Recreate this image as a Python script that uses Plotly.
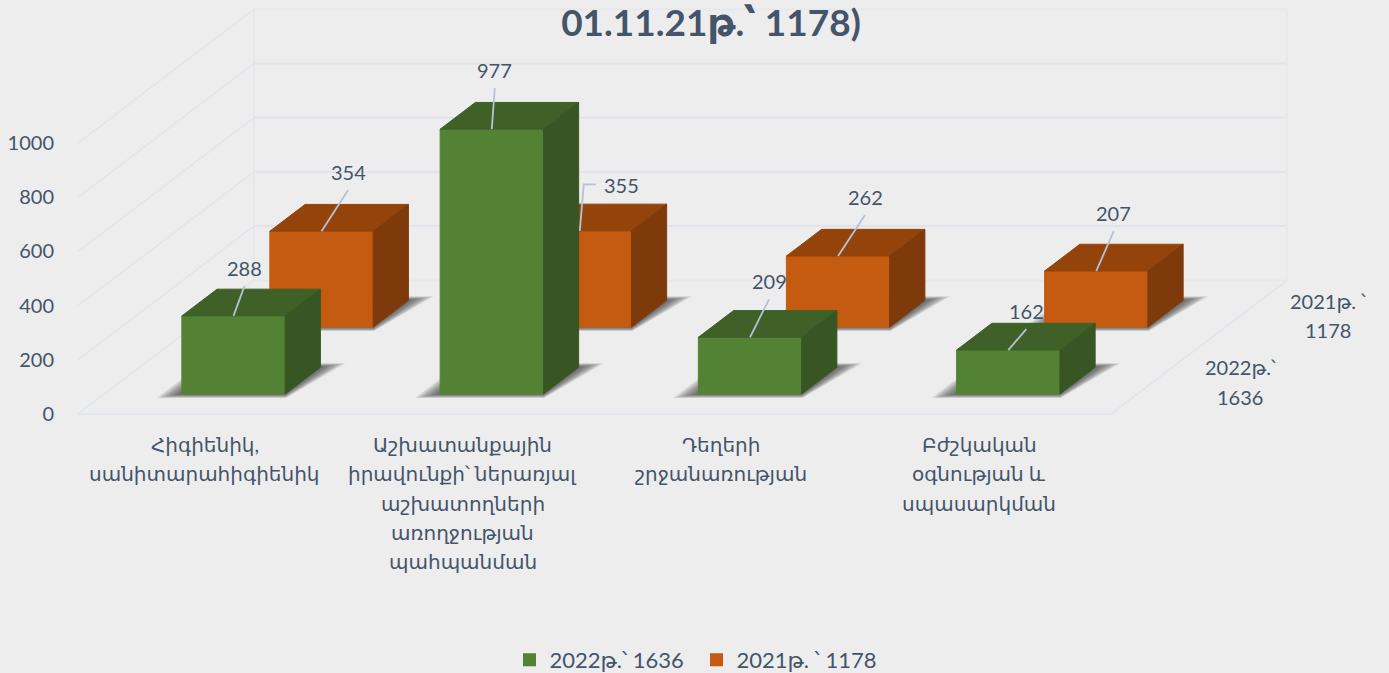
import plotly.graph_objects as go

# ---- data ----
categories = [
    ["Հիգիենիկ,", "սանիտարահիգիենիկ"],
    ["Աշխատանքային", "իրավունքի՝ ներառյալ", "աշխատողների", "առողջության", "պահպանման"],
    ["Դեղերի", "շրջանառության"],
    ["Բժշկական", "օգնության և", "սպասարկման"],
]
series_2022 = [288, 977, 209, 162]
series_2021 = [354, 355, 262, 207]
name_2022 = "2022թ.՝ 1636"
name_2021 = "2021թ. ՝ 1178"
depth_2022 = ["2022թ.՝", "1636"]
depth_2021 = ["2021թ. ՝", "1178"]
y_ticks = [0, 200, 400, 600, 800, 1000]
title_text = "01.11.21թ.՝ 1178)"

# ---- style / layout ----
W, H = 1389, 673
BG = "#EDEDED"
TXT = "#44546A"
GRID = "#E0E4EA"
FONT = "Lato, 'DejaVu Sans', sans-serif"
FS = 20
ML = 55
PX_X0, PX_CELL = 78.0, 258.25    # px of category 0 at front, px per category
PX_Y0, PX_UNIT = 414.0, 0.271    # px of value 0 at front, px per value unit
DEPTH_X = 176.0 / PX_CELL        # oblique shift of full depth, in x units
DEPTH_V = 133.7 / PX_UNIT        # oblique shift of full depth, in value units
BAR_D0, BAR_D = 0.15, 0.2
BAR_X0, BAR_W = 0.3, 0.4
GREEN = dict(front="#548235", top="#3F6027", side="#375623")
ORANGE = dict(front="#C55A11", top="#94440B", side="#7E3A0A")
# label offsets from the front-top centre of each bar (px)
OFF_2022 = [(11, -48), (3, -59), (19, -56), (18, -39)]
OFF_2021 = [(26.5, -59), (42, -46), (27, -59), (17.5, -58)]


def P(x, d, v):
    """oblique projection of (category x, depth d, value v) to axis coordinates"""
    return x + d * DEPTH_X, v + d * DEPTH_V


def poly(pts):
    xs, ys = zip(*[P(*p) for p in pts])
    return list(xs) + [xs[0]], list(ys) + [ys[0]]


fig = go.Figure()


def face(pts, color, edge=None, width=1):
    x, y = poly(pts)
    fig.add_trace(go.Scatter(x=x, y=y, mode="lines", fill="toself", fillcolor=color,
                             line=dict(color=edge or color, width=width),
                             hoverinfo="skip", showlegend=False))


def seg(pts, color=GRID, width=1.5):
    xs, ys = zip(*[P(*p) for p in pts])
    fig.add_trace(go.Scatter(x=xs, y=ys, mode="lines", line=dict(color=color, width=width),
                             hoverinfo="skip", showlegend=False))


# walls & floor
n = len(categories)
for t in y_ticks:
    seg([(0, 0, t), (0, 1, t)], "#E0E5EC", 1.3)
    seg([(0, 1, t), (n, 1, t)], "#E7E8EB" if t in (0, 1000) else GRID, 2)
seg([(0, 1, 0), (0, 1, 1000)], "#E2E5EA", 1.5)
seg([(n, 1, 0), (n, 1, 1000)], "#E5E7EA", 1.5)
seg([(0, 0, 0), (n, 0, 0)], "#DFE4EC", 1.5)
seg([(n, 0, 0), (n, 1, 0)], "#DFE4EC", 1.5)


def shadow(x0, x1, d0, d1):
    steps = 10
    for k in range(steps):
        grow = 1 - k / steps
        px = 20 * grow / PX_CELL
        dd = 4 * grow / 133.7
        face([(x0 - px, d0 - dd, 0), (x1 + px * 0.3, d0 - dd, 0),
              (x1 + px, d1 + dd, 0), (x0 - px, d1 + dd, 0)],
             "rgba(50,50,50,0.10)", "rgba(0,0,0,0)", 0)


def bar(c, s, v, col):
    d0 = 0.5 * s + BAR_D0
    d1 = d0 + BAR_D
    x0, x1 = c + BAR_X0, c + BAR_X0 + BAR_W
    shadow(x0, x1, d0, d1)
    face([(x0, d0, 0), (x1, d0, 0), (x1, d0, v), (x0, d0, v)], col["front"])
    face([(x0, d0, v), (x1, d0, v), (x1, d1, v), (x0, d1, v)], col["top"])
    face([(x1, d0, 0), (x1, d1, 0), (x1, d1, v), (x1, d0, v)], col["side"])


for c, v in enumerate(series_2021):
    bar(c, 1, v, ORANGE)
for c, v in enumerate(series_2022):
    bar(c, 0, v, GREEN)


def label(c, s, v, off, elbow=False):
    d0 = 0.5 * s + BAR_D0
    ax, ay = P(c + BAR_X0 + BAR_W / 2, d0, v)
    dx, dy = off
    if elbow:
        xs = [ax, ax + 4 / PX_CELL, ax + 16 / PX_CELL]
        ys = [ay, ay + 46.5 / PX_UNIT, ay + 46.5 / PX_UNIT]
    else:
        xs = [ax, ax + dx / PX_CELL]
        ys = [ay, ay + (-dy - 18) / PX_UNIT]
    fig.add_trace(go.Scatter(x=xs, y=ys, mode="lines", line=dict(color="#B4C2D4", width=1.8),
                             hoverinfo="skip", showlegend=False))
    fig.add_annotation(x=ax + dx / PX_CELL, y=ay - dy / PX_UNIT, text=str(v), showarrow=False,
                       xanchor="center", yanchor="middle", font=dict(size=FS, color=TXT, family=FONT))


for c, v in enumerate(series_2022):
    label(c, 0, v, OFF_2022[c])
for c, v in enumerate(series_2021):
    label(c, 1, v, OFF_2021[c], elbow=(c == 1))

# category labels, one line per annotation for the reference's wide leading
LINE = 29.3
for c, lines in enumerate(categories):
    for i, line in enumerate(lines):
        fig.add_annotation(x=c + 0.5 - 2.5 / PX_CELL, y=(PX_Y0 - 444 - i * LINE) / PX_UNIT, text=line,
                           showarrow=False, xanchor="center", yanchor="middle",
                           font=dict(size=FS, color=TXT, family=FONT))

# depth labels
for s, lines in enumerate([depth_2022, depth_2021]):
    ax, ay = P(n, 0.25 + 0.5 * s, 0)
    for i, line in enumerate(lines):
        fig.add_annotation(x=ax + 85 / PX_CELL, y=ay - (1.5 + (i - 0.5) * LINE) / PX_UNIT, text=line,
                           showarrow=False, xanchor="center", yanchor="middle",
                           font=dict(size=FS, color=TXT, family=FONT))

# legend entries
for name, col in ((name_2022, GREEN), (name_2021, ORANGE)):
    fig.add_trace(go.Scatter(x=[None], y=[None], mode="markers", name=name,
                             marker=dict(symbol="square", size=13, color=col["front"])))

fig.update_layout(
    width=W, height=H, autosize=False,
    paper_bgcolor=BG, plot_bgcolor=BG,
    margin=dict(l=ML, r=0, t=0, b=0, autoexpand=False),
    font=dict(family=FONT, size=FS, color=TXT),
    title=dict(text=f"<b>{title_text}</b>", x=711 / W, xanchor="center", y=1 - 23 / H, yanchor="middle",
               font=dict(size=37, color=TXT, family=FONT)),
    xaxis=dict(range=[(ML - PX_X0) / PX_CELL, (W - PX_X0) / PX_CELL], visible=False, fixedrange=True),
    yaxis=dict(range=[(PX_Y0 - H) / PX_UNIT, PX_Y0 / PX_UNIT], tickvals=y_ticks, showgrid=False,
               zeroline=False, showline=False, ticks="", fixedrange=True,
               tickfont=dict(size=FS, color=TXT, family=FONT)),
    legend=dict(orientation="h", x=(696.5 - ML) / (W - ML), xanchor="center", y=1 - 660 / H, yanchor="middle",
                entrywidth=142, entrywidthmode="pixels",
                bgcolor="rgba(0,0,0,0)", font=dict(size=22, color=TXT, family=FONT)),
)

fig.write_html("out.html", config={"displayModeBar": False},
               post_script="document.body.style.margin='0';document.body.style.overflow='hidden';")
